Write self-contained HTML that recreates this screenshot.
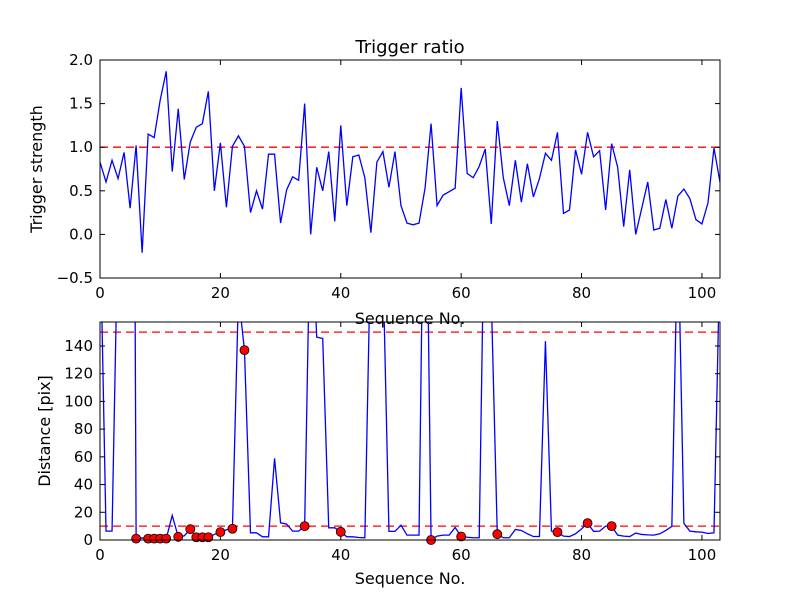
<!DOCTYPE html>
<html><head><meta charset="utf-8"><style>
body{margin:0;background:#fff;}
svg{display:block;font-family:"DejaVu Sans","Liberation Sans",sans-serif;}
</style></head><body>
<svg id="fig" width="800" height="600" viewBox="0 0 800 600"></svg>
<script>
const seqTop = [0.83,0.6,0.85,0.64,0.94,0.3,1.02,-0.21,1.15,1.11,1.54,1.87,0.72,1.44,0.63,1.06,1.23,1.27,1.64,0.5,1.05,0.31,1.01,1.13,1.01,0.25,0.5,0.29,0.92,0.92,0.13,0.51,0.66,0.62,1.5,0.0,0.77,0.5,0.95,0.15,1.25,0.33,0.89,0.91,0.65,0.02,0.83,0.95,0.54,0.95,0.33,0.13,0.11,0.13,0.53,1.27,0.33,0.45,0.49,0.53,1.68,0.7,0.65,0.78,0.98,0.12,1.3,0.65,0.33,0.85,0.37,0.81,0.43,0.64,0.93,0.85,1.17,0.24,0.28,0.97,0.69,1.17,0.89,0.96,0.28,1.04,0.77,0.09,0.74,0.0,0.3,0.6,0.05,0.07,0.4,0.07,0.44,0.52,0.41,0.17,0.12,0.36,0.99,0.6];
const distBottom = [232,6.4,6.4,232,600,1000,1,1.5,1,1,1,1,17.7,2.3,3,7.8,2,2,2,4,5.7,7.4,8.1,177,137,5.2,5.2,2.3,2.3,58.9,12.4,11.5,6.4,6.4,10,250,146.4,145.4,8.8,8.8,5.9,2.3,2.3,1.8,1.6,220,400,200,6.2,6.2,10.7,3.5,3.5,3.5,350,0,2.8,3.5,3.5,9,2.5,2,1.6,1.6,283,176,4.2,1.6,1.6,7.6,6.9,4.5,2.5,2.5,143.5,6.4,5.7,2.8,2.5,4.5,8,12.2,6.2,6.4,10,10,3.5,2.8,2.5,5,4,3.7,3.5,4.5,6.9,9.8,230,12,6.4,5.9,5.7,4.7,5.2,210];
const markerIdx = [6,8,9,10,11,13,15,16,17,18,20,22,24,34,40,55,60,66,76,81,85];
const topYTicks = ["−0.5","0.0","0.5","1.0","1.5","2.0"];
const topYVals = [-0.5,0,0.5,1,1.5,2];
const botYTicks = ["0","20","40","60","80","100","120","140"];
const xTicks = ["0","20","40","60","80","100"];
const topThreshold = [1.0];
const botThresholds = [10,150];

const NS="http://www.w3.org/2000/svg";
const svg=document.getElementById('fig');
function mk(tag,attrs,parent){const e=document.createElementNS(NS,tag);for(const k in attrs)e.setAttribute(k,attrs[k]);(parent||svg).appendChild(e);return e;}

const X0=100,X1=720,XMAX=103;
function xs(v){return X0+(v/XMAX)*(X1-X0);}
const TY0=60,TY1=278; function ysTop(v){return TY1-(v+0.5)/2.5*(TY1-TY0);}
const BY0=322,BY1=540,BMAX=157.3; function ysBot(v){return BY1-v/BMAX*(BY1-BY0);}

const t=mk('text',{x:410,y:53,'text-anchor':'middle','font-size':18});
t.textContent='Trigger ratio';



function axes(name,Y0,Y1,ys,yTickLabels,yTickVals,xlabelY,ylabel,ylabelX){
  const g=mk('g',{});
  
  
  const clipId=name+'-clip';
  const cp=mk('clipPath',{id:clipId},g);
  mk('rect',{x:X0,y:Y0,width:X1-X0,height:Y1-Y0},cp);
  const plot=mk('g',{'clip-path':'url(#'+clipId+')'},g);
  xTicks.forEach(l=>{
    const v=+l,x=xs(v);
    mk('line',{x1:x,y1:Y1,x2:x,y2:Y1-5,stroke:'#000'},g);
    mk('line',{x1:x,y1:Y0,x2:x,y2:Y0+5,stroke:'#000'},g);
    const tx=mk('text',{x:x,y:Y1+20,'text-anchor':'middle','font-size':15},g);
    tx.textContent=l;
    
    
  });
  yTickLabels.forEach((l,i)=>{
    const y=ys(yTickVals[i]);
    mk('line',{x1:X0,y1:y,x2:X0+5,y2:y,stroke:'#000'},g);
    mk('line',{x1:X1,y1:y,x2:X1-5,y2:y,stroke:'#000'},g);
    const tx=mk('text',{x:X0-7,y:y+5,'text-anchor':'end','font-size':15},g);
    tx.textContent=l;
    
    
  });
  const xl=mk('text',{x:410,y:xlabelY,'text-anchor':'middle','font-size':16},g);
  xl.textContent='Sequence No.';
  
  
  const yl=mk('text',{x:ylabelX,y:(Y0+Y1)/2,'text-anchor':'middle','font-size':16,transform:'rotate(-90 '+ylabelX+' '+(Y0+Y1)/2+')'},g);
  yl.textContent=ylabel;
  
  
  return {g,plot};
}

const A=axes('top-axes',TY0,TY1,ysTop,topYTicks,topYVals,324,'Trigger strength',42);
topThreshold.forEach(v=>{
  const l=mk('line',{x1:X0,x2:X1,y1:ysTop(v),y2:ysTop(v),stroke:'#f00','stroke-width':1.3,'stroke-dasharray':'8,5'},A.plot);
  
  
});
const p1=mk('polyline',{fill:'none',stroke:'#00f','stroke-width':1.3,points:seqTop.map((v,i)=>xs(i)+','+ysTop(v)).join(' ')},A.plot);


mk('rect',{x:X0,y:TY0,width:X1-X0,height:TY1-TY0,fill:'none',stroke:'#000','stroke-width':1},A.g);

const B=axes('bottom-axes',BY0,BY1,ysBot,botYTicks,botYTicks.map(Number),584,'Distance [pix]',50);
botThresholds.forEach(v=>{
  const l=mk('line',{x1:X0,x2:X1,y1:ysBot(v),y2:ysBot(v),stroke:'#f00','stroke-width':1.3,'stroke-dasharray':'8,5'},B.plot);
  
  
});
const p2=mk('polyline',{fill:'none',stroke:'#00f','stroke-width':1.3,points:distBottom.map((v,i)=>xs(i)+','+ysBot(v)).join(' ')},B.plot);


markerIdx.forEach(i=>{
  const c=mk('circle',{cx:xs(i),cy:ysBot(distBottom[i]),r:4.5,fill:'#f00',stroke:'#000','stroke-width':0.8},B.g);
  
  
});
mk('rect',{x:X0,y:BY0,width:X1-X0,height:BY1-BY0,fill:'none',stroke:'#000','stroke-width':1},B.g);
</script>
</body></html>
